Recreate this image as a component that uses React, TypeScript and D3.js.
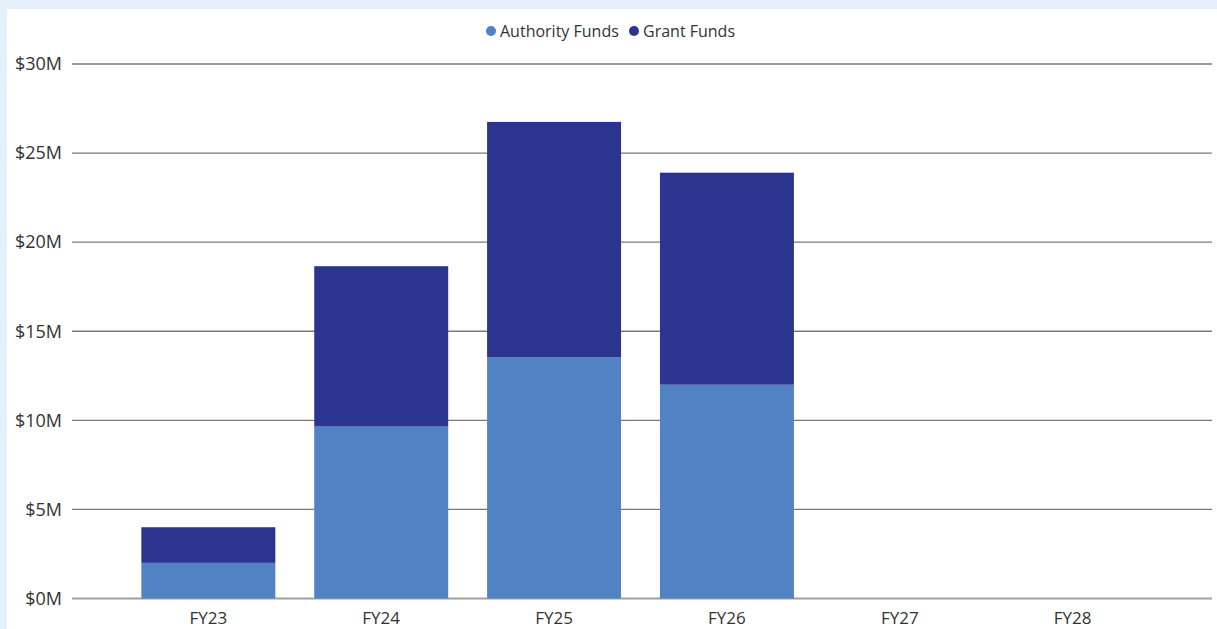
import React, { useEffect, useRef } from 'react';
import * as d3 from 'd3';

// chart data
const years = ['FY23', 'FY24', 'FY25', 'FY26', 'FY27', 'FY28'];
const authorityFunds = [2.0, 9.65, 13.55, 12.0, 0, 0];
const grantFunds = [2.0, 9.0, 13.2, 11.9, 0, 0];
const seriesNames = ['Authority Funds', 'Grant Funds'];
const seriesColors = ['#5182C3', '#2B348F'];
const yTicks = [0, 5, 10, 15, 20, 25, 30];

const W = 1217;
const H = 629;

export default function App() {
  const ref = useRef<SVGSVGElement>(null);

  useEffect(() => {
    const svg = d3.select(ref.current);
    svg.selectAll('*').remove();

    const font = "'Open Sans', 'Noto Sans', sans-serif";

    // page background (light blue) and white chart panel
    svg.append('rect').attr('width', W).attr('height', H).attr('fill', '#E6F0FA');
    svg.append('rect').attr('x', 7).attr('y', 9).attr('width', W - 7).attr('height', H - 9).attr('fill', '#ffffff');

    const left = 72;
    const right = 1212;
    const top = 64;
    const bottom = 598.5;

    // bands sit a touch left of the grid extent
    const x = d3.scaleBand<string>()
      .domain(years)
      .range([left - 1.5, right - 1.5])
      .paddingInner(0.225)
      .paddingOuter(0.41);

    const y = d3.scaleLinear().domain([0, 30]).range([bottom, top]);

    // gridlines
    svg.append('g')
      .selectAll('line')
      .data(yTicks)
      .enter().append('line')
      .attr('x1', left)
      .attr('x2', right)
      .attr('y1', d => y(d))
      .attr('y2', d => y(d))
      .attr('stroke', d => (d === 0 ? '#a0a0a0' : '#7a7a7a'))
      .attr('stroke-width', d => (d === 0 ? 2 : 1.3));

    // y tick labels
    svg.append('g')
      .selectAll('text')
      .data(yTicks)
      .enter().append('text')
      .attr('x', 62)
      .attr('y', d => y(d))
      .attr('dy', '0.35em')
      .attr('text-anchor', 'end')
      .attr('font-family', font)
      .attr('font-size', 18)
      .attr('fill', '#333')
      .text(d => `$${d}M`);

    // stacked bars
    const rows = years.map((yr, i) => ({ yr, a: authorityFunds[i], g: grantFunds[i] }));
    const stack = d3.stack<any>().keys(['a', 'g'])(rows);

    stack.forEach((layer, li) => {
      svg.append('g')
        .selectAll('rect')
        .data(layer)
        .enter().append('rect')
        .attr('x', d => x(d.data.yr)!)
        .attr('width', x.bandwidth())
        .attr('y', d => y(d[1]))
        .attr('height', d => Math.max(0, y(d[0]) - y(d[1])))
        .attr('fill', seriesColors[li]);
    });

    // x labels
    svg.append('g')
      .selectAll('text')
      .data(years)
      .enter().append('text')
      .attr('x', d => x(d)! + x.bandwidth() / 2)
      .attr('y', 618)
      .attr('dy', '0.35em')
      .attr('text-anchor', 'middle')
      .attr('font-family', font)
      .attr('font-size', 17)
      .attr('fill', '#333')
      .text(d => d);

    // legend
    const legend = svg.append('g').attr('font-family', font).attr('font-size', 16);
    const lx = [491, 634];
    seriesNames.forEach((name, i) => {
      legend.append('circle')
        .attr('cx', lx[i])
        .attr('cy', 31)
        .attr('r', 5)
        .attr('fill', seriesColors[i]);
      legend.append('text')
        .attr('x', lx[i] + 9)
        .attr('y', 31)
        .attr('dy', '0.35em')
        .attr('fill', '#333')
        .text(name);
    });
  }, []);

  return (
    <svg
      ref={ref}
      width={W}
      height={H}
      style={{ position: 'fixed', left: 0, top: 0, display: 'block' }}
    />
  );
}
